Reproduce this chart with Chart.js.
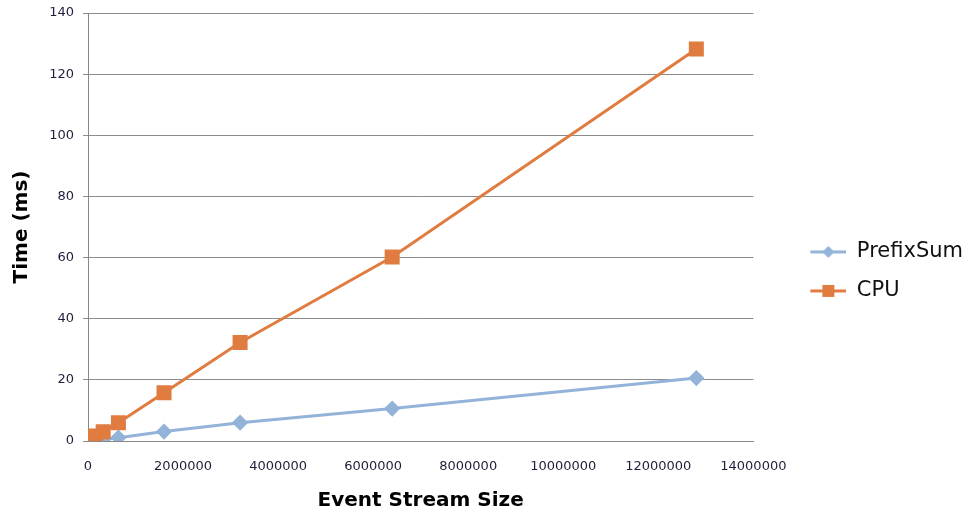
<!DOCTYPE html>
<html>
<head>
<meta charset="utf-8">
<script src="https://cdn.jsdelivr.net/npm/chart.js@4/dist/chart.umd.min.js"></script>
<style>
  html, body { margin: 0; padding: 0; background: #fff; }
  #wrap { width: 966px; height: 519px; }
</style>
</head>
<body>
<div id="wrap"><canvas id="chart"></canvas></div>
<script>
// event stream sizes (x) and times in ms
const streamSizes = [80000, 160000, 320000, 640000, 1600000, 3200000, 6400000, 12800000];
const prefixSumMs = [0.2, 0.3, 0.5, 1.1, 3.1, 6.0, 10.6, 20.6];
const cpuMs = [0.8, 1.6, 3.0, 6.0, 15.8, 32.2, 60.2, 128.2];
const seriesNames = ['PrefixSum', 'CPU'];

const blue = '#93b3d9';
const orange = '#e07c40';
const font = "'DejaVu Sans', sans-serif";

function toPoints(ys) {
  return streamSizes.map((x, i) => ({ x: x, y: ys[i] }));
}

// legend pictures: blank space on the left, then line + marker
const ICON_GAP = 39;
function legendIcon(color, shape) {
  const c = document.createElement('canvas');
  c.width = ICON_GAP + 36; c.height = 14;
  const g = c.getContext('2d');
  g.translate(ICON_GAP, 0);
  g.strokeStyle = color; g.lineWidth = 3;
  g.beginPath(); g.moveTo(0, 7); g.lineTo(36, 7); g.stroke();
  g.fillStyle = color;
  g.beginPath();
  if (shape === 'diamond') {
    g.moveTo(18, 1); g.lineTo(24, 7); g.lineTo(18, 13); g.lineTo(12, 7);
  } else {
    g.rect(12, 1, 12, 12);
  }
  g.fill();
  return c;
}
const icons = [legendIcon(blue, 'diamond'), legendIcon(orange, 'square')];

new Chart(document.getElementById('chart').getContext('2d'), {
  type: 'line',
  data: {
    datasets: [
      {
        label: seriesNames[0],
        data: toPoints(prefixSumMs),
        borderColor: blue, backgroundColor: blue,
        borderWidth: 3, pointStyle: 'rectRot', pointRadius: 6,
        order: 1
      },
      {
        label: seriesNames[1],
        data: toPoints(cpuMs),
        borderColor: orange, backgroundColor: orange,
        borderWidth: 3, pointStyle: 'rect', pointRadius: 8.5,
        order: 0
      }
    ]
  },
  options: {
    responsive: true,
    maintainAspectRatio: false,
    animation: false,
    layout: { padding: { left: 10, top: 13, right: -7, bottom: 0 } },
    plugins: {
      tooltip: { enabled: false },
      legend: {
        position: 'right',
        // empty title only nudges the items down a little
        title: { display: true, text: ' ', padding: 0, font: { size: 9 } },
        labels: {
          usePointStyle: true,
          pointStyleWidth: ICON_GAP + 36,
          padding: 18,
          color: '#111',
          font: { family: font, size: 21 },
          sort: (a, b) => a.datasetIndex - b.datasetIndex,
          generateLabels: function (chart) {
            const items = Chart.defaults.plugins.legend.labels.generateLabels(chart);
            items.forEach(it => { it.pointStyle = icons[it.datasetIndex]; });
            return items;
          }
        }
      }
    },
    scales: {
      x: {
        type: 'linear',
        min: 0, max: 14000000,
        afterFit: s => { s.height = 78; },
        ticks: {
          stepSize: 2000000,
          color: '#1f1f3a',
          font: { family: font, size: 13 },
          padding: 12,
          maxRotation: 0,
          callback: v => String(v)
        },
        grid: { display: false, drawOnChartArea: false, drawTicks: true, tickLength: 6, color: '#888' },
        border: { display: true, color: '#888', width: 1 },
        title: {
          display: true, text: 'Event Stream Size', color: '#000',
          font: { family: font, size: 20, weight: 'bold' },
          padding: { top: 12, bottom: 6 }
        }
      },
      y: {
        min: 0, max: 140,
        afterFit: s => { s.width = 78; s.paddingTop = 0; },
        ticks: {
          stepSize: 20,
          color: '#1f1f3a',
          font: { family: font, size: 13 },
          padding: 9
        },
        grid: { color: '#8c8c8c', lineWidth: 1, tickLength: 5 },
        border: { display: true, color: '#888', width: 1 },
        title: {
          display: true, text: 'Time (ms)', color: '#000',
          font: { family: font, size: 20, weight: 'bold' },
          padding: 0
        }
      }
    }
  }
});
</script>
</body>
</html>
